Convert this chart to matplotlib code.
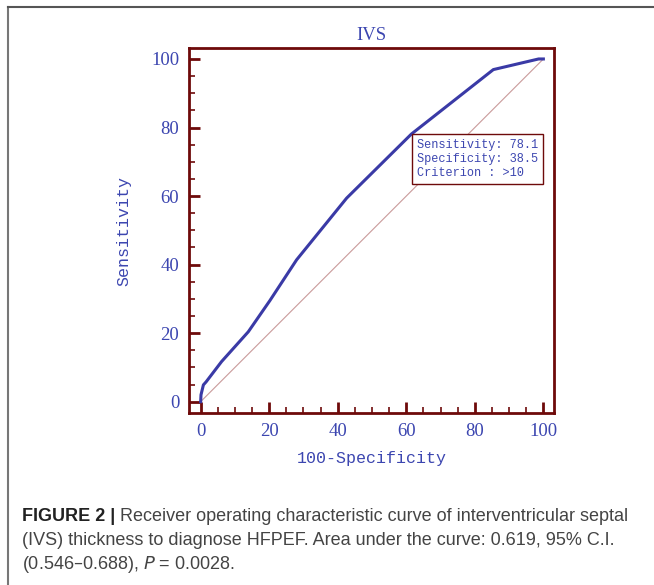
import matplotlib
matplotlib.use("Agg")
import matplotlib.pyplot as plt
from matplotlib.lines import Line2D
from matplotlib.ticker import MultipleLocator

# Data
fpr = [0, 0.1, 0.8, 1.6, 6.1, 13.9, 20.2, 28.0, 42.6, 61.5, 85.4, 98.6, 100]
tpr = [0, 2.0, 4.9, 5.8, 11.7, 20.4, 29.5, 41.4, 59.4, 78.1, 96.9, 100, 100]
diag = [0, 100]
title = "IVS"
xlabel = "100-Specificity"
ylabel = "Sensitivity"
box_lines = ["Sensitivity: 78.1", "Specificity: 38.5", "Criterion : >10"]
ticks = [0, 20, 40, 60, 80, 100]
caption_bold = "FIGURE 2 |"
caption_lines = [
    " Receiver operating characteristic curve of interventricular septal",
    "(IVS) thickness to diagnose HFPEF. Area under the curve: 0.619, 95% C.I.",
    "(0.546\u20130.688), $P$ = 0.0028.",
]

W, H = 654, 585
fig = plt.figure(figsize=(W / 100, H / 100), dpi=100)
fig.patch.set_facecolor("white")

maroon = "#6e0a0a"
blue = "#3a3aa6"
txtblue = "#3c46b0"

# outer gray frame lines (top & left)
fig.add_artist(Line2D([7.5 / W, 7.5 / W], [0, 1 - 6.5 / H], transform=fig.transFigure,
                      color="#777777", lw=1.5))
fig.add_artist(Line2D([7.5 / W, 1], [1 - 6.5 / H, 1 - 6.5 / H], transform=fig.transFigure,
                      color="#555555", lw=1.5))

ax = fig.add_axes([189 / W, 1 - 413 / H, (554 - 189) / W, (413 - 48) / H])
ax.set_xlim(-3.4, 103.1)
ax.set_ylim(-3.3, 103.2)

ax.plot(diag, diag, color="#c99a9a", lw=0.8, zorder=2)
ax.plot(fpr, tpr, color=blue, lw=2.2, solid_joinstyle="round", zorder=3)

for s in ax.spines.values():
    s.set_color(maroon)
    s.set_linewidth(2.0)

ax.xaxis.set_major_locator(MultipleLocator(20))
ax.yaxis.set_major_locator(MultipleLocator(20))
ax.xaxis.set_minor_locator(MultipleLocator(5))
ax.yaxis.set_minor_locator(MultipleLocator(5))
ax.tick_params(which="major", direction="in", length=8, width=2.0, color=maroon,
               labelcolor=txtblue, labelsize=13.5, pad=7)
ax.tick_params(which="minor", direction="in", length=4.3, width=1.2, color=maroon)
ax.tick_params(top=False, right=False, which="both")
ax.set_xticks(ticks)
ax.set_yticks(ticks)
for lab in ax.get_xticklabels() + ax.get_yticklabels():
    lab.set_family("Liberation Serif")

ax.set_title(title, family="Liberation Serif", fontsize=13.5, color=txtblue, pad=6)
ax.set_xlabel(xlabel, family="Liberation Mono", fontsize=12, color=txtblue, labelpad=8)
ax.set_ylabel(ylabel, family="Liberation Mono", fontsize=12, color=txtblue, labelpad=14)

# annotation box
ax.text(0.625, 0.752, "\n".join(box_lines), transform=ax.transAxes,
        family="Liberation Mono", fontsize=8.6, color=txtblue, va="top", ha="left",
        linespacing=1.27,
        bbox=dict(boxstyle="square,pad=0.42", fc="white", ec=maroon, lw=1.0), zorder=5)

# caption
fs = 13.0
y0 = 1 - 521 / H
t = fig.text(22 / W, y0, caption_bold, family="Liberation Sans", fontsize=fs,
             fontweight="bold", color="#222222", va="baseline")
fig.canvas.draw()
bb = t.get_window_extent()
fig.text(bb.x1 / W, y0, caption_lines[0], family="Liberation Sans", fontsize=fs,
         color="#444444", va="baseline")
fig.text(22 / W, 1 - 545 / H, caption_lines[1], family="Liberation Sans", fontsize=fs,
         color="#444444", va="baseline")
fig.text(22 / W, 1 - 569 / H, caption_lines[2], family="Liberation Sans", fontsize=fs,
         color="#444444", va="baseline")

fig.savefig("out.png", dpi=100, facecolor="white")
